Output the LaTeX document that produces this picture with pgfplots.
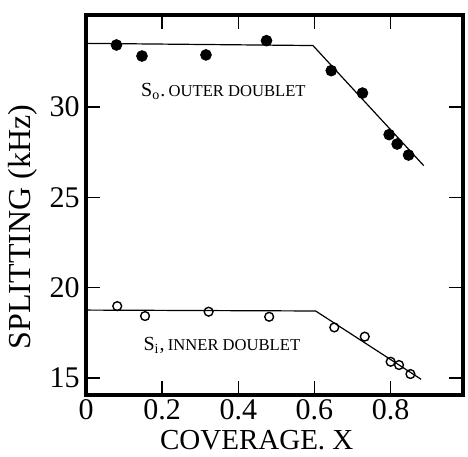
\documentclass[border=0pt]{standalone}
\usepackage{fontspec}
\setmainfont{Liberation Serif}
\usepackage{pgfplots}
\pgfplotsset{compat=1.18}
\begin{document}
\begin{tikzpicture}
\begin{axis}[
    scale only axis, width=188.5pt, height=190pt,
    xmin=0, xmax=0.99, ymin=14.06, ymax=35.09,
    xtick={0,0.2,0.4,0.6,0.8}, ytick={15,20,25,30},
    xticklabels={0,0.2,0.4,0.6,0.8},
    /pgf/number format/assume math mode=true,
    ticklabel style={font=\fontsize{15}{17}\selectfont},
    xticklabel style={inner sep=2pt},
    yticklabel style={inner sep=3pt},
    major tick length=7pt,
    tick style={line width=0.8pt, black},
    axis line style={line width=1.8pt},
    xlabel={COVERAGE. X},
    ylabel={SPLITTING (kHz)},
    xlabel style={font=\fontsize{14.5}{16}\selectfont, at={(axis description cs:0.453,-0.118)}, anchor=center},
    ylabel style={font=\fontsize{16}{18}\selectfont, at={(axis description cs:-0.167,0.442)}, anchor=center, rotate=0},
    clip=false,
]
% outer doublet
\addplot[only marks, mark=*, mark size=2.7pt, black] coordinates {
    (0.080,33.43) (0.147,32.82) (0.315,32.88) (0.474,33.67) (0.644,32.01)
    (0.726,30.77) (0.796,28.47) (0.817,27.95) (0.847,27.34)
};
\addplot[black, line width=0.6pt] coordinates {(0,33.52) (0.596,33.40) (0.887,26.75)};
% inner doublet
\addplot[only marks, mark=o, mark size=2.2pt, black, line width=0.7pt] coordinates {
    (0.082,18.98) (0.155,18.43) (0.322,18.67) (0.481,18.39) (0.652,17.80)
    (0.732,17.29) (0.800,15.90) (0.822,15.72) (0.852,15.22)
};
\addplot[black, line width=0.6pt] coordinates {(0,18.76) (0.603,18.71) (0.880,14.93)};
\node[anchor=base west, inner sep=0pt] at (axis cs:0.144,30.57)
    {{\fontsize{10}{11}\selectfont S\textsubscript{o}.}\,{\fontsize{8.3}{10}\selectfont OUTER DOUBLET}};
\node[anchor=base west, inner sep=0pt] at (axis cs:0.150,16.55)
    {{\fontsize{10}{11}\selectfont S\textsubscript{i},}\,{\fontsize{8.3}{10}\selectfont INNER DOUBLET}};
\end{axis}
\path ([shift={(-43pt,-26.5pt)}]current axis.south west) rectangle ([shift={(2.5pt,7.5pt)}]current axis.north east);
\end{tikzpicture}
\end{document}
